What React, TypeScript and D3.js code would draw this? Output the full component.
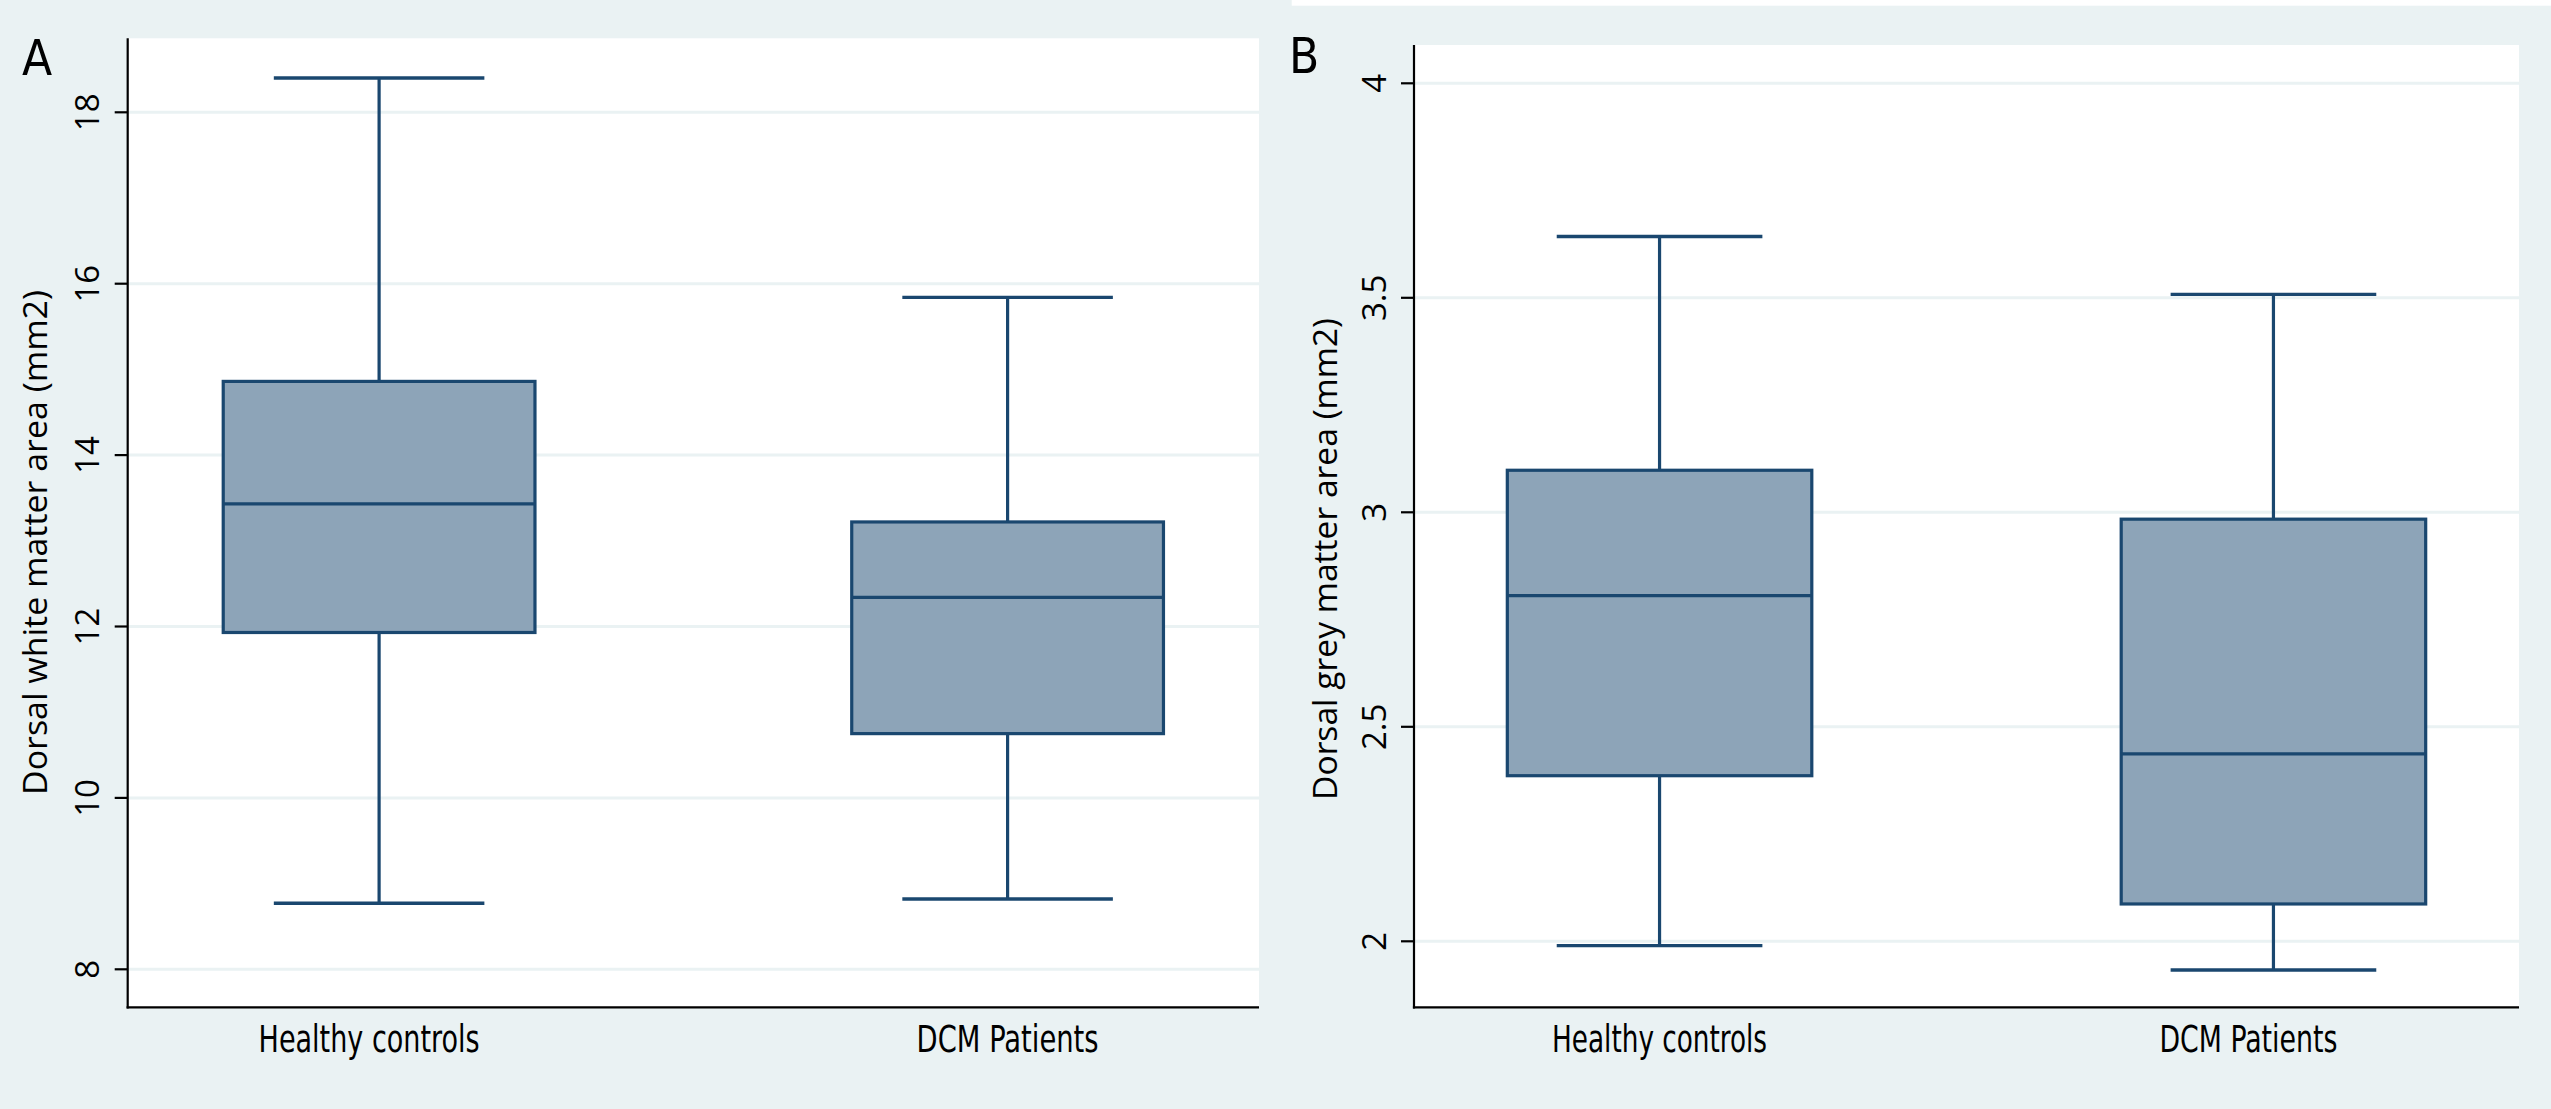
import React from "react";
import * as d3 from "d3";

// ---------- data ----------
const groups = ["Healthy controls", "DCM Patients"];

const whiteLower = [8.77, 8.82];
const whiteQ1 = [11.93, 10.75];
const whiteMedian = [13.43, 12.34];
const whiteQ3 = [14.86, 13.22];
const whiteUpper = [18.4, 15.84];
const whiteTicks = [8, 10, 12, 14, 16, 18];

const greyLower = [1.99, 1.933];
const greyQ1 = [2.386, 2.087];
const greyMedian = [2.806, 2.437];
const greyQ3 = [3.098, 2.984];
const greyUpper = [3.643, 3.508];
const greyTicks = [2, 2.5, 3, 3.5, 4];

// ---------- style ----------
const BG = "#EAF2F3";
const NAVY = "#1A476F";
const FILL = "#8DA4B8";
const GRID = "#EAF2F3";
const TICK_FONT = "'Open Sans', 'Noto Sans', sans-serif";
const CAT_FONT = "'Liberation Sans Narrow', 'DejaVu Sans Condensed', 'Open Sans', sans-serif";

type PanelProps = {
  letter: string;
  letterX: number;
  letterY: number;
  title: string;
  titleX: number;
  titleY: number;
  titleLen: number;
  left: number;
  right: number;
  top: number;
  bottom: number;
  yDomain: [number, number];
  yRange: [number, number];
  ticks: number[];
  tickLabelX: number;
  lower: number[];
  q1: number[];
  median: number[];
  q3: number[];
  upper: number[];
  catLens: number[];
  catShift: number[];
};

function Panel(p: PanelProps) {
  const x = d3.scalePoint<string>().domain(groups).range([p.left, p.right]).padding(0.4);
  const y = d3.scaleLinear().domain(p.yDomain).range(p.yRange);
  const step = x.step();
  const boxW = step * 0.496;
  const capW = step * 0.335;
  const lw = 3.2;
  return (
    <g>
      <rect x={p.left} y={p.top} width={p.right - p.left} height={p.bottom - p.top} fill="#ffffff" />
      {p.ticks.map((t) => (
        <line key={"g" + t} x1={p.left} x2={p.right} y1={y(t)} y2={y(t)} stroke={GRID} strokeWidth={3} />
      ))}
      {groups.map((g, i) => {
        const cx = x(g) as number;
        return (
          <g key={g}>
            <line x1={cx} x2={cx} y1={y(p.q3[i])} y2={y(p.upper[i])} stroke={NAVY} strokeWidth={lw} />
            <line x1={cx} x2={cx} y1={y(p.q1[i])} y2={y(p.lower[i])} stroke={NAVY} strokeWidth={lw} />
            <line x1={cx - capW / 2} x2={cx + capW / 2} y1={y(p.upper[i])} y2={y(p.upper[i])} stroke={NAVY} strokeWidth={3.4} />
            <line x1={cx - capW / 2} x2={cx + capW / 2} y1={y(p.lower[i])} y2={y(p.lower[i])} stroke={NAVY} strokeWidth={3.4} />
            <rect
              x={cx - boxW / 2}
              y={y(p.q3[i])}
              width={boxW}
              height={y(p.q1[i]) - y(p.q3[i])}
              fill={FILL}
              stroke={NAVY}
              strokeWidth={lw}
            />
            <line x1={cx - boxW / 2} x2={cx + boxW / 2} y1={y(p.median[i])} y2={y(p.median[i])} stroke={NAVY} strokeWidth={lw} />
            <text
              x={cx + p.catShift[i]}
              y={1051.7}
              textAnchor="middle"
              fontFamily={CAT_FONT}
              fontSize={37}
              fill="#000"
              textLength={p.catLens[i]}
              lengthAdjust="spacingAndGlyphs"
            >
              {g}
            </text>
          </g>
        );
      })}
      {/* axes */}
      <line x1={p.left} x2={p.left} y1={p.top} y2={p.bottom + 1.1} stroke="#000" strokeWidth={2.2} />
      <line x1={p.left - 1.1} x2={p.right} y1={p.bottom} y2={p.bottom} stroke="#000" strokeWidth={2.2} />
      {p.ticks.map((t) => (
        <g key={"t" + t}>
          <line x1={p.left - 13} x2={p.left} y1={y(t)} y2={y(t)} stroke="#000" strokeWidth={2.2} />
          <text
            transform={`translate(${p.tickLabelX},${y(t)}) rotate(-90)`}
            textAnchor="middle"
            fontFamily={TICK_FONT}
            fontSize={33}
            fill="#000"
          >
            {String(t)}
          </text>
        </g>
      ))}
      <text
        transform={`translate(${p.titleX},${p.titleY}) rotate(-90)`}
        textAnchor="middle"
        fontFamily={TICK_FONT}
        fontSize={32}
        fill="#000"
        textLength={p.titleLen}
        lengthAdjust="spacingAndGlyphs"
      >
        {p.title}
      </text>
      <text x={p.letterX} y={p.letterY} fontFamily={CAT_FONT} fontSize={49} fill="#000">
        {p.letter}
      </text>
    </g>
  );
}

export default function App() {
  return (
    <svg
      width={2551}
      height={1109}
      style={{ position: "absolute", left: 0, top: 0, display: "block" }}
      xmlns="http://www.w3.org/2000/svg"
    >
      <rect x={0} y={0} width={2551} height={1109} fill={BG} />
      <rect x={1291.7} y={0} width={2551 - 1291.7} height={5.7} fill="#ffffff" />
      <Panel
        letter="A"
        letterX={22}
        letterY={75}
        title="Dorsal white matter area (mm2)"
        titleX={47}
        titleY={542.5}
        titleLen={505}
        left={127.7}
        right={1259}
        top={38.3}
        bottom={1007.3}
        yDomain={[8, 18]}
        yRange={[969.3, 112.3]}
        ticks={whiteTicks}
        tickLabelX={99}
        lower={whiteLower}
        q1={whiteQ1}
        median={whiteMedian}
        q3={whiteQ3}
        upper={whiteUpper}
        catLens={[221, 182]}
        catShift={[-10, 0]}
      />
      <Panel
        letter="B"
        letterX={1289}
        letterY={73}
        title="Dorsal grey matter area (mm2)"
        titleX={1337}
        titleY={559}
        titleLen={482}
        left={1414}
        right={2519}
        top={45}
        bottom={1007.3}
        yDomain={[2, 4]}
        yRange={[941.3, 83.3]}
        ticks={greyTicks}
        tickLabelX={1386}
        lower={greyLower}
        q1={greyQ1}
        median={greyMedian}
        q3={greyQ3}
        upper={greyUpper}
        catLens={[215, 178]}
        catShift={[0, -25]}
      />
    </svg>
  );
}
